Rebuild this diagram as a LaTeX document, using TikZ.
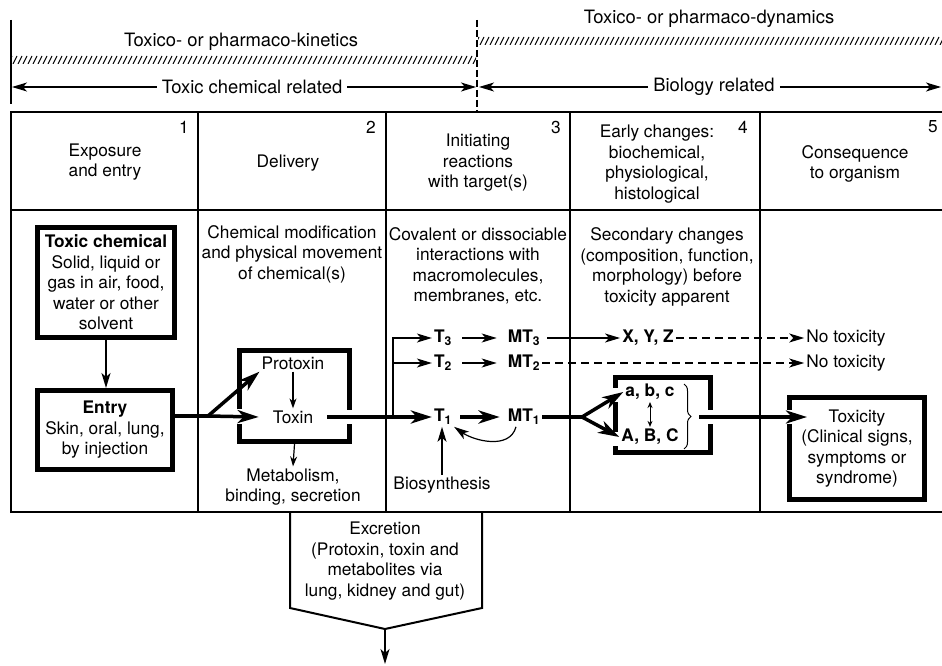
\documentclass[tikz,border=0pt]{standalone}
\usepackage{fontspec}
\setmainfont{TeX Gyre Heros}
\usetikzlibrary{positioning,arrows.meta,decorations.pathreplacing}

\begin{document}
\begin{tikzpicture}[x=1pt,y=-1pt,
  every node/.style={font=\fontsize{17.3}{20.5}\selectfont,align=center,inner sep=2pt},
  title/.style={font=\fontsize{18.4}{21}\selectfont},
  heavybox/.style={draw,line width=5pt,inner sep=0pt},
  rule/.style={line width=1.2pt},
  tip/.style={-{Stealth[length=15pt,width=9pt,inset=4pt]}},
  bigtip/.style={-{Stealth[length=21pt,width=13pt,inset=6pt]}},
  lightarrow/.style={line width=1.2pt,tip},
  flow/.style={line width=4pt,bigtip},
  dashflow/.style={line width=1.2pt,dash pattern=on 8pt off 5pt,tip},
  hatch/.style={line width=1pt}]
\useasboundingbox (0,0) rectangle (942,666);
\clip (0,0) rectangle (942,666);

% kinetics / dynamics bands
\draw[rule] (11,20) -- (11,104);
\draw[rule,dash pattern=on 7pt off 3pt] (477,20) -- (477,112);
\node[title] (kin) at (241,42) {Toxico- or pharmaco-kinetics};
\node[title] (dyn) at (709,19) {Toxico- or pharmaco-dynamics};
\begin{scope}
  \clip (12,56) rectangle (476,64);
  \foreach \x in {8,13,...,480} \draw[hatch] (\x,64) -- (\x+4,56);
\end{scope}
\begin{scope}
  \clip (478,37) rectangle (942,45);
  \foreach \x in {475,480,...,945} \draw[hatch] (\x,45) -- (\x+4,37);
\end{scope}
\node[title,inner xsep=5pt] (chem) at (252,87) {Toxic chemical related};
\coordinate (kinL) at (12,87);
\coordinate (kinR) at (476,87);
\draw[lightarrow] (chem.west) -- (kinL);
\draw[lightarrow] (chem.east) -- (kinR);
\node[title,inner xsep=5pt] (bio) at (714,87) {Biology related};
\coordinate (bioL) at (479,87);
\coordinate (bioR) at (941,87);
\draw[lightarrow] (bio.west) -- (bioL);
\draw[lightarrow] (bio.east) -- (bioR);

% table frame
\draw[line width=2pt] (11,513) -- (11,112) -- (950,112);
\draw[line width=2.5pt] (11,512) -- (950,512);
\draw[rule] (11,210) -- (950,210);
\foreach \x in {198,386,570,760} \draw[rule] (\x,112) -- (\x,512);
\foreach \n/\x in {1/184,2/371,3/556,4/743,5/933} \node (num\n) at (\x,127) {\n};

% column heads
\node (head1) at (105,162) {Exposure\\and entry};
\node (head2) at (288,163) {Delivery};
\node (head3) at (478,163) {Initiating\\reactions\\with target(s)};
\node (head4) at (657,164) {Early changes:\\biochemical,\\physiological,\\histological};
\node (head5) at (855,164) {Consequence\\to organism};

\node (desc2) at (292,254) {Chemical modification\\and physical movement\\of chemical(s)};
\node (desc3) at (478,266) {Covalent or dissociable\\interactions with\\macromolecules,\\membranes, etc.};
\node (desc4) at (667,267) {Secondary changes\\(composition, function,\\morphology) before\\toxicity apparent};

% exposure and entry
\node[heavybox,minimum width=137pt,minimum height=110pt] (source) at (106,282.5)
  {\textbf{Toxic chemical}\\Solid, liquid or\\gas in air, food,\\water or other\\solvent};
\node[heavybox,minimum width=135pt,minimum height=79pt] (entry) at (105,430)
  {\textbf{Entry}\\Skin, oral, lung,\\by injection};
\draw[line width=1.5pt,tip] (source.south) -- (source.south |- entry.north);

% delivery
\node[heavybox,minimum width=110pt,minimum height=91pt] (pbox) at (294.5,396) {};
\node (protoxin) at (293,363) {Protoxin};
\node (toxin) at (293,417) {Toxin};
\node (metab) at (293,487) {Metabolism,\\binding, secretion};
\fill[white] (235,409) rectangle (244,424);
\fill[white] (345,410) rectangle (354,424);

% early changes and outcome
\node[heavybox,minimum width=95pt,minimum height=75pt] (grp) at (663,415) {};
\node[heavybox,minimum width=135pt,minimum height=102pt] (tox) at (857,448.5)
  {Toxicity\\(Clinical signs,\\symptoms or\\syndrome)};
\fill[white] (611,388) rectangle (620,402);
\fill[white] (611,432) rectangle (620,446);
\fill[white] (706,410) rectangle (715,424);
\fill[white] (785,410) rectangle (794,424);

% targets
\node (t3) at (443,338) {\textbf{T\textsubscript{3}}};
\node (t2) at (443,363) {\textbf{T\textsubscript{2}}};
\node (t1) at (443,417) {\textbf{T\textsubscript{1}}};
\node (mt3) at (524,338) {\textbf{MT\textsubscript{3}}};
\node (mt2) at (524,363) {\textbf{MT\textsubscript{2}}};
\node (mt1) at (524,417) {\textbf{MT\textsubscript{1}}};
\node (bios) at (442,485) {Biosynthesis};
\node (xyz) at (648,338) {\textbf{X, Y, Z}};
\node (none3) at (846,338) {No toxicity};
\node (none2) at (846,363) {No toxicity};
\node (abc) at (650,392) {\textbf{a, b, c}};
\node (ABC) at (650,437) {\textbf{A, B, C}};

% excretion
\node (excr) at (385,561) {Excretion\\(Protoxin, toxin and\\metabolites via\\lung, kidney and gut)};
\draw[line width=2pt] (290,512) -- (290,608) -- (385,629) coordinate (point) -- (482,608) -- (482,512);
\coordinate (drain) at (385,664);
\draw[lightarrow] (point) -- (drain);

% connectors
\coordinate (split) at (208,416);
\draw[line width=4pt] (entry.east |- split) -- (split);
\draw[line width=3.5pt,bigtip] (split) -- (protoxin.south west);
\draw[line width=3.5pt,bigtip] (split) -- ([xshift=-12pt]toxin.west);
\draw[line width=1.2pt,-{Stealth[length=10pt,width=7pt]}] (protoxin.south) -- (toxin.north);
\draw[line width=1.2pt,-{Stealth[length=10pt,width=7pt]}] (pbox.south) -- (metab.north);
\draw[flow] ([xshift=12pt]toxin.east) -- (t1.west);
\coordinate (br) at (393,417);
\draw[lightarrow] (br) |- (t3.west);
\draw[lightarrow] (br |- t2.west) -- (t2.west);
\draw[lightarrow,shorten <=8pt,shorten >=9pt] (t3.east) -- (mt3.west);
\draw[lightarrow,shorten <=8pt,shorten >=9pt] (t2.east) -- (mt2.west);
\draw[flow,shorten <=6pt,shorten >=6pt] (t1.east) -- (mt1.west);
\draw[lightarrow] (bios.north) -- (bios.north |- t1.south);
\draw[lightarrow] ([xshift=-8pt]mt1.south) to[out=-105,in=-35] (t1.south east);
\draw[lightarrow,shorten <=5pt] (mt3.east) -- (xyz.west);
\draw[dashflow] (xyz.east) -- (none3.west);
\draw[dashflow] (mt2.east) -- (none2.west);
\coordinate (fork) at (582,417);
\draw[line width=4pt] (mt1.east) -- (fork);
\draw[line width=3.5pt,bigtip] (fork) -- (abc.west);
\draw[line width=3.5pt,bigtip] (fork) -- (ABC.west);
\draw[line width=1pt,{Stealth[length=6pt,width=5pt]}-{Stealth[length=6pt,width=5pt]}] (abc.south) -- (ABC.north);
\draw[line width=1pt,decorate,decoration={brace,amplitude=7pt}] (684,384) -- (684,449);
\coordinate (cue) at (699,417);
\draw[flow,shorten >=-20pt] (cue) -- (cue -| tox.west);
\end{tikzpicture}
\end{document}
